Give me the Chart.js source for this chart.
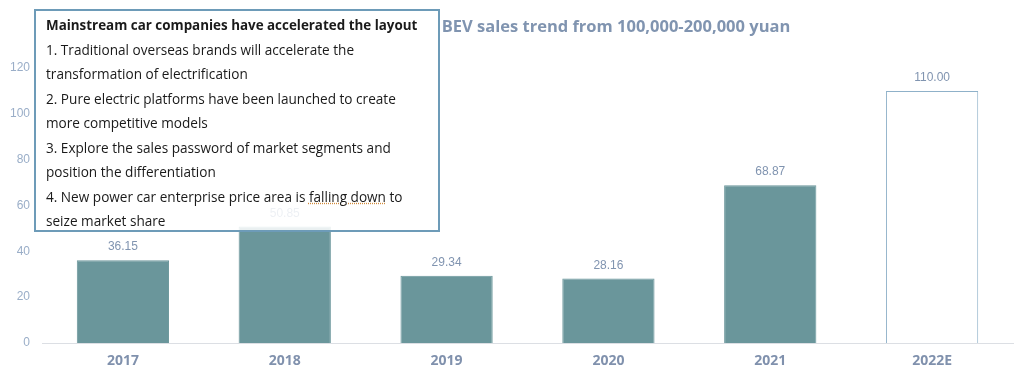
<!DOCTYPE html>
<html>
<head>
<meta charset="utf-8">
<script src="https://cdn.jsdelivr.net/npm/chart.js@4"></script>
<style>
  html, body { margin: 0; padding: 0; background: #fff; }
  #wrap { position: relative; width: 1024px; height: 376px; }
  #note {
    position: absolute; left: 34px; top: 9px; width: 392px; height: 217px;
    border: 2px solid #6d9bb8; background: rgba(255,255,255,0.86);
    font-family: "Open Sans", sans-serif; font-size: 13.6px; line-height: 24.5px;
    color: #1a1a1a; padding: 2px 0 0 10px; box-sizing: content-box;
    white-space: nowrap;
  }
  #note b { font-weight: 700; font-size: 13.4px; }
  #note .sq { text-decoration: underline dotted #d08a3a; }
</style>
</head>
<body>
<div id="wrap">
  <canvas id="bevChart"></canvas>
  <div id="note">
    <b>Mainstream car companies have accelerated the layout</b><br>
    1. Traditional overseas brands will accelerate the<br>
    transformation of electrification<br>
    2. Pure electric platforms have been launched to create<br>
    more competitive models<br>
    3. Explore the sales password of market segments and<br>
    position the differentiation<br>
    4. New power car enterprise price area is <span class="sq">falling down</span> to<br>
    seize market share
  </div>
</div>
<script>
const ctx = document.getElementById("bevChart");

var years = ["2017", "2018", "2019", "2020", "2021", "2022E"];
var sales = [36.15, 50.85, 29.34, 28.16, 68.87, 110.0];
var yTicks = [0, 20, 40, 60, 80, 100, 120];
var titleText = "BEV sales trend from 100,000-200,000 yuan";

var fillColors = ["#6a969b", "#6a969b", "#6a969b", "#6a969b", "#6a969b", "#ffffff"];
var edgeColors = ["#6a969b", "#6a969b", "#6a969b", "#6a969b", "#6a969b", "#8fb1c9"];

// value labels above bars + the title text
const extras = {
    id: "extras",
    afterDatasetsDraw(chart) {
        const c = chart.ctx;
        const meta = chart.getDatasetMeta(0);
        c.save();
        c.font = "12px 'Liberation Sans', Arial, sans-serif";
        c.fillStyle = "#8094b0";
        c.textAlign = "center";
        c.textBaseline = "bottom";
        meta.data.forEach(function (bar, i) {
            c.fillText(sales[i].toFixed(2), bar.x, bar.y - 7);
        });
        c.font = "bold 16.5px 'Open Sans', sans-serif";
        c.fillStyle = "#8094b0";
        c.textBaseline = "middle";
        c.fillText(titleText, 616, 27);
        c.restore();
    },
};

new Chart(ctx, {
    type: "bar",
    data: {
        labels: years,
        datasets: [
            {
                data: sales,
                backgroundColor: fillColors,
                borderColor: edgeColors,
                borderWidth: 1,
                barPercentage: 0.57,
                categoryPercentage: 1,
            },
        ],
    },
    options: {
        responsive: true,
        maintainAspectRatio: false,
        animation: false,
        layout: { padding: { top: 68, right: 11, left: 0, bottom: 0 } },
        plugins: {
            legend: { display: false },
            tooltip: { enabled: false },
        },
        scales: {
            x: {
                grid: { display: false, drawTicks: false },
                border: { color: "#dcdfe4" },
                ticks: {
                    color: "#8091ad",
                    padding: 10,
                    font: { size: 14, weight: "bold", family: "Open Sans" },
                },
                afterFit(scale) { scale.height = 33; },
            },
            y: {
                min: 0,
                max: 120,
                afterBuildTicks(scale) {
                    scale.ticks = yTicks.map(function (v) { return { value: v }; });
                },
                grid: { display: false, drawTicks: false },
                border: { display: false },
                ticks: {
                    color: "#9aaec8",
                    padding: 12,
                    font: { size: 12, family: "Liberation Sans" },
                },
                afterFit(scale) { scale.width = 42; },
            },
        },
    },
    plugins: [extras],
});
</script>
</body>
</html>
